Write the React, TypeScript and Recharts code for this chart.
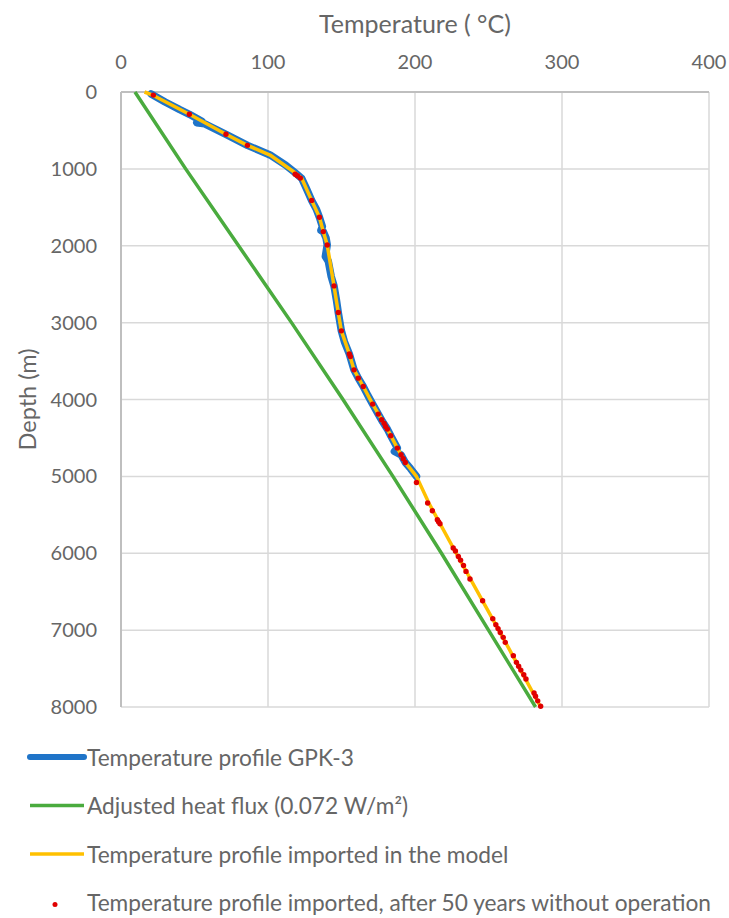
import React from 'react';
import { ScatterChart, Scatter, XAxis, YAxis, CartesianGrid } from 'recharts';

// Measured well log GPK-3 (depth in m, temperature in °C)
const gpk3Depth = [25, 130, 230, 290, 380, 400, 415, 550, 694, 819, 950, 1050, 1122, 1250, 1410, 1530, 1630, 1750, 1800, 1816, 1900, 1990, 2140, 2200, 2400, 2522, 2700, 2869, 3107, 3250, 3406, 3614, 3722, 3831, 3950, 4060, 4190, 4290, 4385, 4472, 4632, 4676, 4719, 4819, 4900, 5000];
const gpk3Temp = [20.5, 30, 40, 46.5, 55, 51.5, 57, 71.4, 86, 101.4, 112, 118.4, 122.9, 126, 129.7, 133, 135, 137, 136, 137.6, 139.5, 140.3, 139, 141, 143, 144.9, 146.5, 147.8, 149.9, 152, 155.3, 158.5, 161.4, 164.8, 168, 171.2, 175, 178, 181.2, 183.5, 188, 186, 190.5, 193.4, 197, 201];

// Conductive profile for the adjusted heat flux
const fluxDepth = [0, 1000, 2000, 3000, 4000, 5000, 6000, 7000, 8000];
const fluxTemp = [9.5, 44, 80, 116, 151, 185, 218, 250, 282];

// Profile imported in the model
const modelDepth = [0, 45, 290, 550, 694, 820, 1050, 1122, 1410, 1630, 1816, 1990, 2522, 2869, 3107, 3406, 3614, 3831, 4060, 4385, 4632, 4819, 5000, 5350, 6000, 7000, 8000];
const modelTemp = [16, 22, 46.5, 71.4, 86, 101.4, 118.4, 122.9, 129.7, 135, 137.6, 140.3, 144.9, 147.8, 149.9, 155.3, 158.5, 164.8, 171.2, 181.2, 188, 193.4, 201, 209.5, 228, 257, 285.5];

// Imported profile after 50 years without operation
const restDepth = [40, 290, 550, 694, 1070, 1090, 1120, 1410, 1630, 1816, 1990, 2522, 2869, 3107, 3406, 3440, 3614, 3722, 3831, 4060, 4190, 4264, 4310, 4350, 4385, 4472, 4632, 4719, 4770, 4819, 5079, 5347, 5447, 5564, 5590, 5616, 5932, 5970, 6041, 6090, 6160, 6236, 6335, 6617, 6851, 6929, 6980, 7030, 7094, 7159, 7332, 7419, 7470, 7520, 7580, 7635, 7817, 7860, 7920, 7990];
const restTemp = [22, 46.5, 71.4, 86, 118.5, 120, 122, 129.7, 135, 137.6, 140.3, 144.9, 147.8, 149.9, 155.3, 156, 158.5, 161.4, 164.8, 171.2, 175, 177.3, 179, 180, 181.2, 183.5, 188, 190.5, 192, 193.4, 201, 208.6, 211.8, 215.2, 216, 217, 226, 227.5, 229.5, 231, 233, 234.7, 237.4, 246, 252.9, 255, 256.5, 258, 260, 261.4, 266.9, 269, 270.5, 272, 274, 275.5, 281, 282, 283.5, 285.5];

const tempTicks = [0, 100, 200, 300, 400];
const depthTicks = [0, 1000, 2000, 3000, 4000, 5000, 6000, 7000, 8000];

const legendItems = [
  { label: 'Temperature profile GPK-3', color: '#1f74c8', kind: 'thick' },
  { label: 'Adjusted heat flux (0.072 W/m²)', color: '#4aab3e', kind: 'line' },
  { label: 'Temperature profile imported in the model', color: '#ffc000', kind: 'line' },
  { label: 'Temperature profile imported, after 50 years without operation', color: '#e00000', kind: 'dot' },
];

const toPoints = (depth: number[], temp: number[]) => depth.map((d, i) => ({ d, t: temp[i] }));

const gpk3 = toPoints(gpk3Depth, gpk3Temp);
const flux = toPoints(fluxDepth, fluxTemp);
const model = toPoints(modelDepth, modelTemp);
const rest = toPoints(restDepth, restTemp);

const FONT = 'Lato, "Open Sans", sans-serif';
const TEXT = '#666666';

const noShape = () => <g />;
const redDot = (props: any) => <circle cx={props.cx} cy={props.cy} r={2.7} fill="#e00000" />;

export default function App() {
  return (
    <div style={{ position: 'absolute', left: 0, top: 0, width: 729, height: 918, background: '#fff', fontFamily: FONT }}>
      <ScatterChart width={729} height={730} margin={{ top: 62, right: 20, bottom: 23, left: 61 }}>
        <CartesianGrid stroke="#d9d9d9" strokeWidth={1.5} />
        <XAxis
          type="number"
          dataKey="t"
          orientation="top"
          domain={[0, 400]}
          ticks={tempTicks}
          height={30}
          tickLine={false}
          tickSize={0}
          tickMargin={23}
          axisLine={{ stroke: '#bfbfbf', strokeWidth: 2 }}
          tick={{ fill: TEXT, fontSize: 20, fontFamily: FONT }}
          label={{ value: 'Temperature ( °C)', position: 'top', offset: 29, fill: TEXT, fontSize: 25, fontFamily: FONT }}
        />
        <YAxis
          type="number"
          dataKey="d"
          domain={[0, 8000]}
          reversed
          ticks={depthTicks}
          width={60}
          tickLine={false}
          tickSize={0}
          tickMargin={24}
          axisLine={{ stroke: '#bfbfbf', strokeWidth: 2 }}
          tick={{ fill: TEXT, fontSize: 20, fontFamily: FONT }}
          label={{ value: 'Depth (m)', angle: -90, position: 'insideLeft', offset: -33, fill: TEXT, fontSize: 23.5, fontFamily: FONT, style: { textAnchor: 'middle' } }}
        />
        <Scatter
          data={gpk3}
          line={{ stroke: '#1f74c8', strokeWidth: 7.5, strokeLinejoin: 'round', strokeLinecap: 'round' }}
          lineType="joint"
          shape={noShape}
          isAnimationActive={false}
        />
        <Scatter
          data={flux}
          line={{ stroke: '#4aab3e', strokeWidth: 3.5 }}
          lineType="joint"
          shape={noShape}
          isAnimationActive={false}
        />
        <Scatter
          data={model}
          line={{ stroke: '#ffc000', strokeWidth: 3.5, strokeLinejoin: 'round' }}
          lineType="joint"
          shape={noShape}
          isAnimationActive={false}
        />
        <Scatter data={rest} shape={redDot} isAnimationActive={false} />
      </ScatterChart>
      <svg width={729} height={188} style={{ position: 'absolute', left: 0, top: 730 }}>
        {legendItems.map((item, i) => {
          const y = 27 + i * 48.5;
          return (
            <g key={item.label}>
              {item.kind === 'dot' ? (
                <circle cx={55} cy={y + 2} r={2.5} fill={item.color} />
              ) : (
                <line
                  x1={30}
                  x2={84}
                  y1={y}
                  y2={y}
                  stroke={item.color}
                  strokeWidth={item.kind === 'thick' ? 6 : 3.5}
                  strokeLinecap={item.kind === 'thick' ? 'round' : 'butt'}
                />
              )}
              <text x={87} y={y} dominantBaseline="central" fill={TEXT} fontSize={22.7} fontFamily={FONT}>
                {item.label}
              </text>
            </g>
          );
        })}
      </svg>
    </div>
  );
}
